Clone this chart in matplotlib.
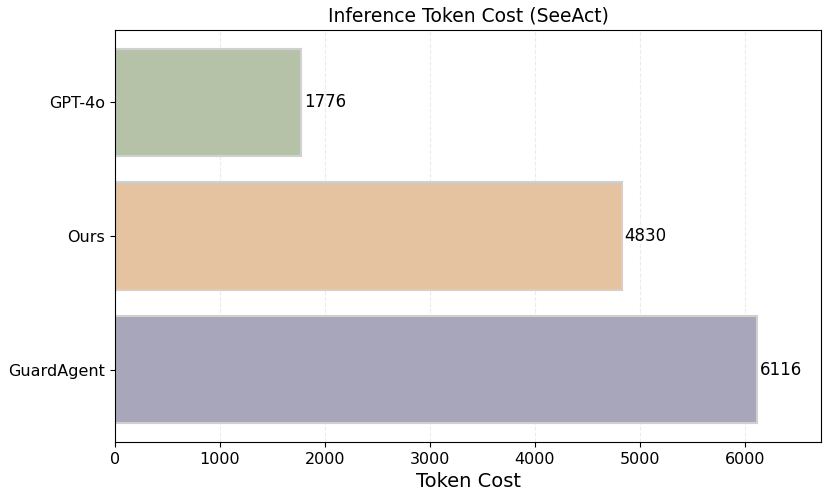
import matplotlib
matplotlib.use("Agg")
import matplotlib.pyplot as plt

methods = ["GPT-4o", "Ours", "GuardAgent"]
token_cost = [1776, 4830, 6116]
colors = ["#b5c2a8", "#e5c2a0", "#a8a6ba"]

fig, ax = plt.subplots(figsize=(8.3, 4.97), dpi=100)
bars = ax.barh(methods, token_cost, height=0.8, color=colors,
               edgecolor="#d0d0d0", linewidth=1.5)
ax.invert_yaxis()
ax.bar_label(bars, labels=[str(v) for v in token_cost], padding=2, fontsize=12)

ax.set_xlim(0, max(token_cost) * 1.1)
ax.set_xlabel("Token Cost", fontsize=14)
ax.set_title("Inference Token Cost (SeeAct)", fontsize=13.5)
ax.tick_params(axis="both", labelsize=11.5)
ax.grid(axis="x", linestyle="--", alpha=0.35, color="#c8c8c8")
ax.set_axisbelow(True)

fig.subplots_adjust(left=115 / 830, right=821 / 830, top=1 - 30 / 497, bottom=1 - 442 / 497)
fig.savefig("out.png", dpi=100, facecolor="white")
